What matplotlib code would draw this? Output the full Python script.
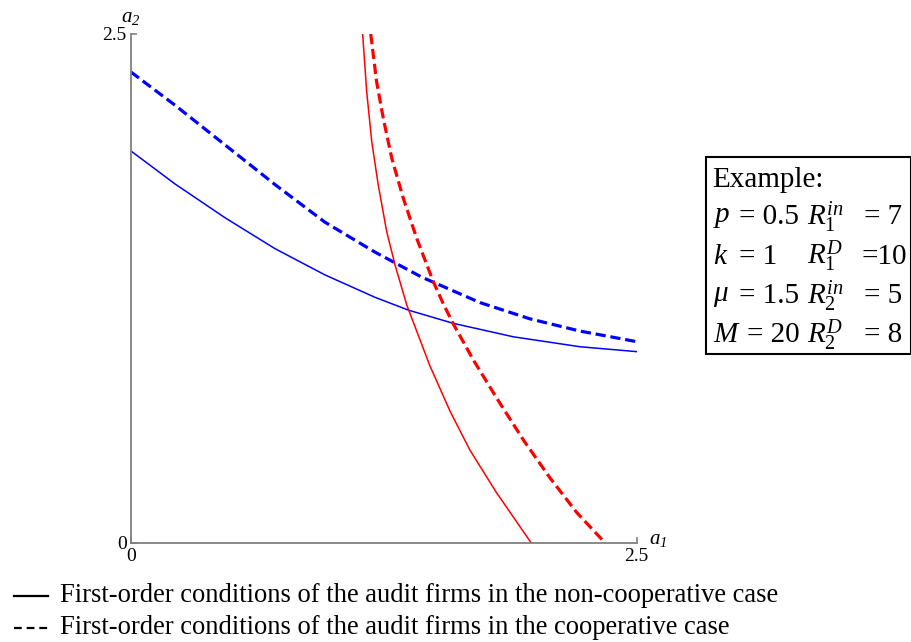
import matplotlib
matplotlib.use("Agg")
import matplotlib.pyplot as plt
from matplotlib.lines import Line2D
from matplotlib.patches import Rectangle

plt.rcParams['font.family'] = ['Liberation Serif', 'DejaVu Serif']
plt.rcParams['mathtext.fontset'] = 'custom'
plt.rcParams['mathtext.rm'] = 'Liberation Serif'
plt.rcParams['mathtext.it'] = 'Liberation Serif:italic'
plt.rcParams['mathtext.bf'] = 'Liberation Serif:bold'
# sf slot used for italic digits in the axis labels
plt.rcParams['mathtext.sf'] = 'Liberation Serif:italic'

# points (a1, a2)
blue_solid_a1 = [0.0, 0.219, 0.466, 0.713, 0.960, 1.207, 1.372, 1.594, 1.890, 2.220, 2.500]
blue_solid_a2 = [1.926, 1.763, 1.597, 1.445, 1.316, 1.206, 1.143, 1.078, 1.012, 0.963, 0.939]

blue_dash_a1 = [0.0, 0.219, 0.466, 0.713, 0.960, 1.207, 1.438, 1.726, 1.973, 2.220, 2.500]
blue_dash_a2 = [2.314, 2.150, 1.955, 1.760, 1.575, 1.428, 1.305, 1.180, 1.100, 1.040, 0.988]

red_solid_a1 = [1.146, 1.166, 1.191, 1.223, 1.265, 1.306, 1.364, 1.478, 1.577, 1.676, 1.808, 1.978]
red_solid_a2 = [2.500, 2.216, 1.971, 1.758, 1.528, 1.365, 1.168, 0.870, 0.648, 0.455, 0.245, 0.000]

red_dash_a1 = [1.186, 1.215, 1.248, 1.290, 1.347, 1.413, 1.495, 1.544, 1.594, 1.693, 1.808, 1.940, 2.072, 2.204, 2.343]
red_dash_a2 = [2.500, 2.265, 2.085, 1.889, 1.692, 1.496, 1.283, 1.175, 1.075, 0.898, 0.711, 0.505, 0.318, 0.148, 0.000]

tick_vals = [0, 2.5]
tick_labels = ['0', '2.5']

box_title = 'Example:'
left_syms = ['p', 'k', r'\mu', 'M']
left_vals = ['= 0.5', '= 1', '= 1.5', '= 20']
right_syms = [r'R^{in}_{1}', r'R^{D}_{1}', r'R^{in}_{2}', r'R^{D}_{2}']
right_vals = ['= 7', '=10', '= 5', '= 8']

legend_texts = ['First-order conditions of the audit firms in the non-cooperative case',
                'First-order conditions of the audit firms in the cooperative case']

W, H = 912, 642
fig = plt.figure(figsize=(W / 100, H / 100), dpi=100)
ax = fig.add_axes([130.7 / W, 99.3 / H, 506 / W, 508.7 / H])

ax.plot(blue_solid_a1, blue_solid_a2, color='#0000ff', lw=1.1)
ax.plot(blue_dash_a1, blue_dash_a2, color='#0000ff', lw=2.3, dashes=(3.2, 1.5))
ax.plot(red_solid_a1, red_solid_a2, color='#ff0000', lw=1.1)
ax.plot(red_dash_a1, red_dash_a2, color='#ff0000', lw=2.3, dashes=(3.2, 1.5))

ax.set_xlim(0, 2.5)
ax.set_ylim(0, 2.5)
for s in ['top', 'right']:
    ax.spines[s].set_visible(False)
for s in ['left', 'bottom']:
    ax.spines[s].set_color('#808080')
    ax.spines[s].set_linewidth(1.3)
ax.set_xticks(tick_vals, tick_labels)
ax.set_yticks(tick_vals, tick_labels)
ax.tick_params(direction='in', length=4, width=1.2, color='#808080', labelsize=14, pad=3)
ax.tick_params(axis='x', pad=4)

ax.text(1.042, 0.006, r'$a_{\mathsf{1}}$', transform=ax.transAxes, fontsize=15, ha='center', va='center')
ax.text(0.0, 1.032, r'$a_{\mathsf{2}}$', transform=ax.transAxes, fontsize=15, ha='center', va='center')

# parameter box
def fx(px):
    return px / W

def fy(py):
    return 1 - py / H

fig.add_artist(Rectangle((fx(706), fy(353.5)), fx(911) - fx(706), fy(157) - fy(353.5),
                         transform=fig.transFigure, fill=False, ec='black', lw=1.5))
fs = 21
fig.text(fx(712), fy(180), box_title, fontsize=fs, va='center', ha='left')
row_y = [217, 256.5, 296, 335.5]
eq_x = [739, 739, 739, 747]
rv_x = [864, 862, 864, 864]
for i in range(4):
    fig.text(fx(713), fy(row_y[i]), '$' + left_syms[i] + '$', fontsize=fs, va='center', ha='left')
    fig.text(fx(eq_x[i]), fy(row_y[i]), left_vals[i], fontsize=fs, va='center', ha='left')
    fig.text(fx(807), fy(row_y[i]), '$' + right_syms[i] + '$', fontsize=fs, va='center', ha='left')
    fig.text(fx(rv_x[i]), fy(row_y[i]), right_vals[i], fontsize=fs, va='center', ha='left')

# legend under the plot
leg_y = [596, 628]
styles = ['-', '--']
for i in range(2):
    ln = Line2D([fx(14), fx(48)], [fy(leg_y[i]), fy(leg_y[i])], transform=fig.transFigure,
                color='black', lw=1.6, ls=styles[i])
    if styles[i] == '--':
        ln.set_dashes((3.5, 2.2))
    fig.add_artist(ln)
    fig.text(fx(60), fy(leg_y[i]), legend_texts[i], fontsize=19.1, va='center', ha='left')

fig.savefig('out.png', dpi=100)
